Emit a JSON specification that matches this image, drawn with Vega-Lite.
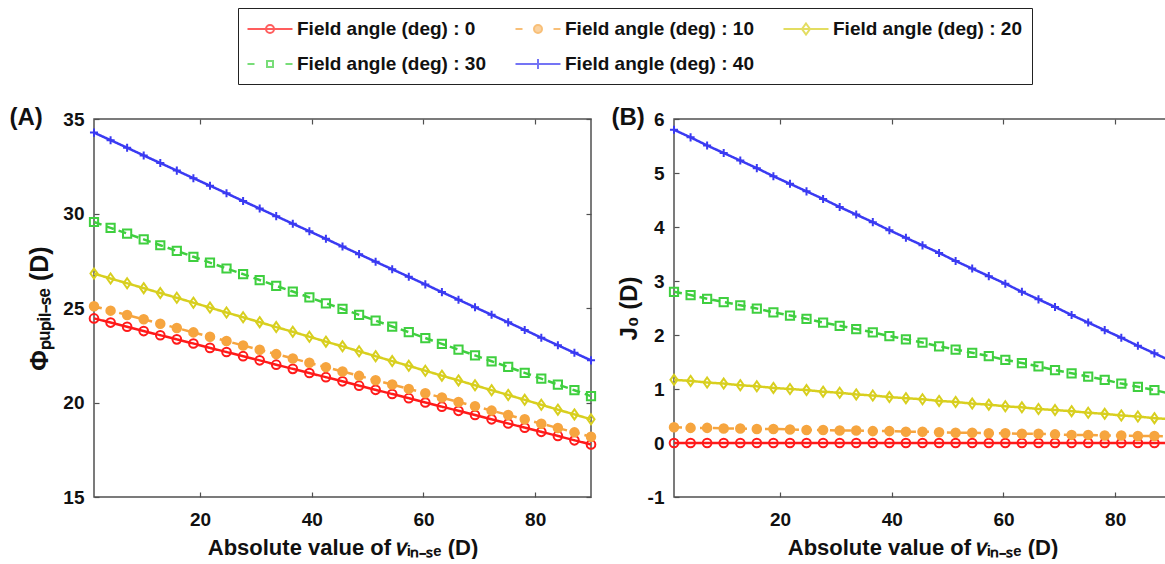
{
  "$schema": "https://vega.github.io/schema/vega-lite/v6.json",
  "background": "white",
  "padding": {"left": 8, "top": 6, "right": 0, "bottom": 0},
  "bounds": "flush",
  "spacing": 83,
  "config": {
    "view": {"stroke": "#505050", "strokeWidth": 1.5},
    "font": "Liberation Sans",
    "axis": {
      "domain": false, "grid": false,
      "tickSize": -5, "tickColor": "#505050", "tickWidth": 1.2,
      "labelFont": "Liberation Sans", "labelFontSize": 19, "labelFontWeight": "bold", "labelColor": "#111",
      "titleFont": "Liberation Sans", "titleFontSize": 22, "titleFontWeight": "bold", "titleColor": "#111"
    },
    "legend": {
      "labelFont": "Liberation Sans", "labelFontSize": 19, "labelFontWeight": "bold", "labelColor": "#111", "labelLimit": 0,
      "symbolStrokeWidth": 2, "symbolSize": 400,
      "strokeColor": "#222", "fillColor": "white", "padding": 10,
      "rowPadding": 14, "columnPadding": 25, "symbolOffset": 11, "labelOffset": 16
    }
  },
  "datasets": {
    "A": [
      {"a":"0","x":1,"y":24.45},{"a":"0","x":3.97,"y":24.23},{"a":"0","x":6.93,"y":24.01},{"a":"0","x":9.9,"y":23.78},{"a":"0","x":12.87,"y":23.56},{"a":"0","x":15.83,"y":23.34},{"a":"0","x":18.8,"y":23.12},{"a":"0","x":21.77,"y":22.89},{"a":"0","x":24.73,"y":22.67},{"a":"0","x":27.7,"y":22.45},{"a":"0","x":30.67,"y":22.23},{"a":"0","x":33.63,"y":22.0},{"a":"0","x":36.6,"y":21.78},{"a":"0","x":39.57,"y":21.56},{"a":"0","x":42.53,"y":21.34},{"a":"0","x":45.5,"y":21.12},{"a":"0","x":48.47,"y":20.89},{"a":"0","x":51.43,"y":20.67},{"a":"0","x":54.4,"y":20.45},{"a":"0","x":57.37,"y":20.23},{"a":"0","x":60.33,"y":20.0},{"a":"0","x":63.3,"y":19.78},{"a":"0","x":66.27,"y":19.56},{"a":"0","x":69.23,"y":19.34},{"a":"0","x":72.2,"y":19.11},{"a":"0","x":75.17,"y":18.89},{"a":"0","x":78.13,"y":18.67},{"a":"0","x":81.1,"y":18.45},{"a":"0","x":84.07,"y":18.23},{"a":"0","x":87.03,"y":18.0},{"a":"0","x":90,"y":17.78},
      {"a":"10","x":1,"y":25.09},{"a":"10","x":3.97,"y":24.86},{"a":"10","x":6.93,"y":24.63},{"a":"10","x":9.9,"y":24.4},{"a":"10","x":12.87,"y":24.17},{"a":"10","x":15.83,"y":23.94},{"a":"10","x":18.8,"y":23.71},{"a":"10","x":21.77,"y":23.48},{"a":"10","x":24.73,"y":23.25},{"a":"10","x":27.7,"y":23.02},{"a":"10","x":30.67,"y":22.79},{"a":"10","x":33.63,"y":22.56},{"a":"10","x":36.6,"y":22.33},{"a":"10","x":39.57,"y":22.1},{"a":"10","x":42.53,"y":21.87},{"a":"10","x":45.5,"y":21.64},{"a":"10","x":48.47,"y":21.41},{"a":"10","x":51.43,"y":21.18},{"a":"10","x":54.4,"y":20.95},{"a":"10","x":57.37,"y":20.72},{"a":"10","x":60.33,"y":20.49},{"a":"10","x":63.3,"y":20.26},{"a":"10","x":66.27,"y":20.03},{"a":"10","x":69.23,"y":19.8},{"a":"10","x":72.2,"y":19.57},{"a":"10","x":75.17,"y":19.34},{"a":"10","x":78.13,"y":19.11},{"a":"10","x":81.1,"y":18.88},{"a":"10","x":84.07,"y":18.65},{"a":"10","x":87.03,"y":18.42},{"a":"10","x":90,"y":18.19},
      {"a":"20","x":1,"y":26.82},{"a":"20","x":3.97,"y":26.56},{"a":"20","x":6.93,"y":26.31},{"a":"20","x":9.9,"y":26.05},{"a":"20","x":12.87,"y":25.79},{"a":"20","x":15.83,"y":25.54},{"a":"20","x":18.8,"y":25.28},{"a":"20","x":21.77,"y":25.02},{"a":"20","x":24.73,"y":24.76},{"a":"20","x":27.7,"y":24.51},{"a":"20","x":30.67,"y":24.25},{"a":"20","x":33.63,"y":23.99},{"a":"20","x":36.6,"y":23.74},{"a":"20","x":39.57,"y":23.48},{"a":"20","x":42.53,"y":23.22},{"a":"20","x":45.5,"y":22.97},{"a":"20","x":48.47,"y":22.71},{"a":"20","x":51.43,"y":22.45},{"a":"20","x":54.4,"y":22.19},{"a":"20","x":57.37,"y":21.94},{"a":"20","x":60.33,"y":21.68},{"a":"20","x":63.3,"y":21.42},{"a":"20","x":66.27,"y":21.17},{"a":"20","x":69.23,"y":20.91},{"a":"20","x":72.2,"y":20.65},{"a":"20","x":75.17,"y":20.4},{"a":"20","x":78.13,"y":20.14},{"a":"20","x":81.1,"y":19.88},{"a":"20","x":84.07,"y":19.62},{"a":"20","x":87.03,"y":19.37},{"a":"20","x":90,"y":19.11},
      {"a":"30","x":1,"y":29.55},{"a":"30","x":3.97,"y":29.24},{"a":"30","x":6.93,"y":28.94},{"a":"30","x":9.9,"y":28.63},{"a":"30","x":12.87,"y":28.32},{"a":"30","x":15.83,"y":28.02},{"a":"30","x":18.8,"y":27.71},{"a":"30","x":21.77,"y":27.4},{"a":"30","x":24.73,"y":27.09},{"a":"30","x":27.7,"y":26.79},{"a":"30","x":30.67,"y":26.48},{"a":"30","x":33.63,"y":26.17},{"a":"30","x":36.6,"y":25.87},{"a":"30","x":39.57,"y":25.56},{"a":"30","x":42.53,"y":25.25},{"a":"30","x":45.5,"y":24.95},{"a":"30","x":48.47,"y":24.64},{"a":"30","x":51.43,"y":24.33},{"a":"30","x":54.4,"y":24.02},{"a":"30","x":57.37,"y":23.72},{"a":"30","x":60.33,"y":23.41},{"a":"30","x":63.3,"y":23.1},{"a":"30","x":66.27,"y":22.8},{"a":"30","x":69.23,"y":22.49},{"a":"30","x":72.2,"y":22.18},{"a":"30","x":75.17,"y":21.88},{"a":"30","x":78.13,"y":21.57},{"a":"30","x":81.1,"y":21.26},{"a":"30","x":84.07,"y":20.95},{"a":"30","x":87.03,"y":20.65},{"a":"30","x":90,"y":20.34},
      {"a":"40","x":1,"y":34.28},{"a":"40","x":3.97,"y":33.88},{"a":"40","x":6.93,"y":33.48},{"a":"40","x":9.9,"y":33.07},{"a":"40","x":12.87,"y":32.67},{"a":"40","x":15.83,"y":32.27},{"a":"40","x":18.8,"y":31.87},{"a":"40","x":21.77,"y":31.47},{"a":"40","x":24.73,"y":31.07},{"a":"40","x":27.7,"y":30.66},{"a":"40","x":30.67,"y":30.26},{"a":"40","x":33.63,"y":29.86},{"a":"40","x":36.6,"y":29.46},{"a":"40","x":39.57,"y":29.06},{"a":"40","x":42.53,"y":28.66},{"a":"40","x":45.5,"y":28.25},{"a":"40","x":48.47,"y":27.85},{"a":"40","x":51.43,"y":27.45},{"a":"40","x":54.4,"y":27.05},{"a":"40","x":57.37,"y":26.65},{"a":"40","x":60.33,"y":26.25},{"a":"40","x":63.3,"y":25.84},{"a":"40","x":66.27,"y":25.44},{"a":"40","x":69.23,"y":25.04},{"a":"40","x":72.2,"y":24.64},{"a":"40","x":75.17,"y":24.24},{"a":"40","x":78.13,"y":23.84},{"a":"40","x":81.1,"y":23.43},{"a":"40","x":84.07,"y":23.03},{"a":"40","x":87.03,"y":22.63},{"a":"40","x":90,"y":22.23}
    ],
    "B": [
      {"a":"0","x":1,"y":0},{"a":"0","x":3.97,"y":0},{"a":"0","x":6.93,"y":0},{"a":"0","x":9.9,"y":0},{"a":"0","x":12.87,"y":0},{"a":"0","x":15.83,"y":0},{"a":"0","x":18.8,"y":0},{"a":"0","x":21.77,"y":0},{"a":"0","x":24.73,"y":0},{"a":"0","x":27.7,"y":0},{"a":"0","x":30.67,"y":0},{"a":"0","x":33.63,"y":0},{"a":"0","x":36.6,"y":0},{"a":"0","x":39.57,"y":0},{"a":"0","x":42.53,"y":0},{"a":"0","x":45.5,"y":0},{"a":"0","x":48.47,"y":0},{"a":"0","x":51.43,"y":0},{"a":"0","x":54.4,"y":0},{"a":"0","x":57.37,"y":0},{"a":"0","x":60.33,"y":0},{"a":"0","x":63.3,"y":0},{"a":"0","x":66.27,"y":0},{"a":"0","x":69.23,"y":0},{"a":"0","x":72.2,"y":0},{"a":"0","x":75.17,"y":0},{"a":"0","x":78.13,"y":0},{"a":"0","x":81.1,"y":0},{"a":"0","x":84.07,"y":0},{"a":"0","x":87.03,"y":0},{"a":"0","x":90,"y":0},
      {"a":"10","x":1,"y":0.29},{"a":"10","x":3.97,"y":0.28},{"a":"10","x":6.93,"y":0.28},{"a":"10","x":9.9,"y":0.27},{"a":"10","x":12.87,"y":0.27},{"a":"10","x":15.83,"y":0.26},{"a":"10","x":18.8,"y":0.26},{"a":"10","x":21.77,"y":0.25},{"a":"10","x":24.73,"y":0.24},{"a":"10","x":27.7,"y":0.24},{"a":"10","x":30.67,"y":0.23},{"a":"10","x":33.63,"y":0.23},{"a":"10","x":36.6,"y":0.22},{"a":"10","x":39.57,"y":0.22},{"a":"10","x":42.53,"y":0.21},{"a":"10","x":45.5,"y":0.21},{"a":"10","x":48.47,"y":0.2},{"a":"10","x":51.43,"y":0.19},{"a":"10","x":54.4,"y":0.19},{"a":"10","x":57.37,"y":0.18},{"a":"10","x":60.33,"y":0.18},{"a":"10","x":63.3,"y":0.17},{"a":"10","x":66.27,"y":0.17},{"a":"10","x":69.23,"y":0.16},{"a":"10","x":72.2,"y":0.15},{"a":"10","x":75.17,"y":0.15},{"a":"10","x":78.13,"y":0.14},{"a":"10","x":81.1,"y":0.14},{"a":"10","x":84.07,"y":0.13},{"a":"10","x":87.03,"y":0.13},{"a":"10","x":90,"y":0.12},
      {"a":"20","x":1,"y":1.17},{"a":"20","x":3.97,"y":1.15},{"a":"20","x":6.93,"y":1.12},{"a":"20","x":9.9,"y":1.1},{"a":"20","x":12.87,"y":1.07},{"a":"20","x":15.83,"y":1.05},{"a":"20","x":18.8,"y":1.02},{"a":"20","x":21.77,"y":1.0},{"a":"20","x":24.73,"y":0.98},{"a":"20","x":27.7,"y":0.95},{"a":"20","x":30.67,"y":0.93},{"a":"20","x":33.63,"y":0.9},{"a":"20","x":36.6,"y":0.88},{"a":"20","x":39.57,"y":0.85},{"a":"20","x":42.53,"y":0.83},{"a":"20","x":45.5,"y":0.81},{"a":"20","x":48.47,"y":0.78},{"a":"20","x":51.43,"y":0.76},{"a":"20","x":54.4,"y":0.73},{"a":"20","x":57.37,"y":0.71},{"a":"20","x":60.33,"y":0.68},{"a":"20","x":63.3,"y":0.66},{"a":"20","x":66.27,"y":0.63},{"a":"20","x":69.23,"y":0.61},{"a":"20","x":72.2,"y":0.59},{"a":"20","x":75.17,"y":0.56},{"a":"20","x":78.13,"y":0.54},{"a":"20","x":81.1,"y":0.51},{"a":"20","x":84.07,"y":0.49},{"a":"20","x":87.03,"y":0.46},{"a":"20","x":90,"y":0.44},
      {"a":"30","x":1,"y":2.8},{"a":"30","x":3.97,"y":2.74},{"a":"30","x":6.93,"y":2.67},{"a":"30","x":9.9,"y":2.61},{"a":"30","x":12.87,"y":2.55},{"a":"30","x":15.83,"y":2.49},{"a":"30","x":18.8,"y":2.42},{"a":"30","x":21.77,"y":2.36},{"a":"30","x":24.73,"y":2.3},{"a":"30","x":27.7,"y":2.23},{"a":"30","x":30.67,"y":2.17},{"a":"30","x":33.63,"y":2.11},{"a":"30","x":36.6,"y":2.05},{"a":"30","x":39.57,"y":1.98},{"a":"30","x":42.53,"y":1.92},{"a":"30","x":45.5,"y":1.86},{"a":"30","x":48.47,"y":1.79},{"a":"30","x":51.43,"y":1.73},{"a":"30","x":54.4,"y":1.67},{"a":"30","x":57.37,"y":1.61},{"a":"30","x":60.33,"y":1.54},{"a":"30","x":63.3,"y":1.48},{"a":"30","x":66.27,"y":1.42},{"a":"30","x":69.23,"y":1.35},{"a":"30","x":72.2,"y":1.29},{"a":"30","x":75.17,"y":1.23},{"a":"30","x":78.13,"y":1.17},{"a":"30","x":81.1,"y":1.1},{"a":"30","x":84.07,"y":1.04},{"a":"30","x":87.03,"y":0.98},{"a":"30","x":90,"y":0.91},
      {"a":"40","x":1,"y":5.8},{"a":"40","x":3.97,"y":5.66},{"a":"40","x":6.93,"y":5.51},{"a":"40","x":9.9,"y":5.37},{"a":"40","x":12.87,"y":5.23},{"a":"40","x":15.83,"y":5.09},{"a":"40","x":18.8,"y":4.94},{"a":"40","x":21.77,"y":4.8},{"a":"40","x":24.73,"y":4.66},{"a":"40","x":27.7,"y":4.52},{"a":"40","x":30.67,"y":4.37},{"a":"40","x":33.63,"y":4.23},{"a":"40","x":36.6,"y":4.09},{"a":"40","x":39.57,"y":3.94},{"a":"40","x":42.53,"y":3.8},{"a":"40","x":45.5,"y":3.66},{"a":"40","x":48.47,"y":3.52},{"a":"40","x":51.43,"y":3.37},{"a":"40","x":54.4,"y":3.23},{"a":"40","x":57.37,"y":3.09},{"a":"40","x":60.33,"y":2.95},{"a":"40","x":63.3,"y":2.8},{"a":"40","x":66.27,"y":2.66},{"a":"40","x":69.23,"y":2.52},{"a":"40","x":72.2,"y":2.37},{"a":"40","x":75.17,"y":2.23},{"a":"40","x":78.13,"y":2.09},{"a":"40","x":81.1,"y":1.95},{"a":"40","x":84.07,"y":1.8},{"a":"40","x":87.03,"y":1.66},{"a":"40","x":90,"y":1.52}
    ]
  },
  "hconcat": [
    {
      "width": 497,
      "height": 378,
      "data": {"name": "A"},
      "layer": [
        {
          "mark": {"type": "line", "strokeWidth": 2.5},
          "encoding": {
            "x": {"field": "x", "type": "quantitative", "scale": {"domain": [1, 90], "nice": false, "zero": false},
                  "axis": {"values": [20, 40, 60, 80], "labelPadding": 18, "titlePadding": 8, "title": "Absolute value of 𝑣ᵢₙ₋ₛₑ (D)"}},
            "y": {"field": "y", "type": "quantitative", "scale": {"domain": [15, 35], "nice": false, "zero": false},
                  "axis": {"values": [15, 20, 25, 30, 35], "labelPadding": 15, "titlePadding": 10, "titleFontSize": 25, "title": "Φₚᵤₚᵢₗ₋ₛₑ (D)"}},
            "stroke": {"field": "a", "type": "nominal", "scale": {"domain": ["0", "10", "20", "30", "40"], "range": ["#ff1a1a", "#f6a53f", "#d8cf1f", "#3fcf3f", "#3a3af2"]}, "legend": null},
            "strokeDash": {"field": "a", "type": "nominal", "scale": {"domain": ["0", "10", "20", "30", "40"], "range": [[1, 0], [8, 5], [1, 0], [8, 5], [1, 0]]}, "legend": null}
          }
        },
        {
          "mark": {"type": "point", "strokeWidth": 2, "opacity": 1},
          "encoding": {
            "x": {"field": "x", "type": "quantitative",
                  "axis": {"orient": "top", "values": [20, 40, 60, 80], "labels": false, "title": "(A)",
                           "titleX": -85, "titleY": 5, "titleAlign": "left", "titleAngle": 0, "titleBaseline": "alphabetic", "titleFontSize": 24}},
            "y": {"field": "y", "type": "quantitative", "axis": {"orient": "right", "values": [15, 20, 25, 30, 35], "labels": false, "title": null}},
            "stroke": {"field": "a", "type": "nominal", "scale": {"domain": ["0", "10", "20", "30", "40"], "range": ["#ff1a1a", "#f6a53f", "#d8cf1f", "#3fcf3f", "#3a3af2"]}, "legend": null},
            "fill": {"field": "a", "type": "nominal", "scale": {"domain": ["0", "10", "20", "30", "40"], "range": ["transparent", "#f6a53f", "transparent", "transparent", "transparent"]}, "legend": null},
            "shape": {"field": "a", "type": "nominal", "scale": {"domain": ["0", "10", "20", "30", "40"], "range": ["circle", "circle", "M0,-1.2L0.85,0L0,1.2L-0.85,0Z", "square", "M-1,0H1M0,-1V1"]}, "legend": null},
            "size": {"field": "a", "type": "ordinal", "scale": {"domain": ["0", "10", "20", "30", "40"], "range": [75, 65, 110, 60, 130]}, "legend": null}
          }
        },
        {
          "data": {"values": []},
          "mark": {"type": "point", "filled": true, "size": 400, "strokeWidth": 2},
          "encoding": {
            "stroke": {"field": "a", "type": "nominal",
                       "scale": {"domain": ["0", "10", "20", "30", "40"], "range": ["#ff1a1a", "#f6a53f", "#d8cf1f", "#3fcf3f", "#3a3af2"]},
                       "legend": {"orient": "none", "legendX": 144, "legendY": -111, "columns": 3, "direction": "horizontal", "title": null, "labelExpr": "'Field angle (deg) : ' + datum.label"}},
            "fill": {"field": "a", "type": "nominal",
                     "scale": {"domain": ["0", "10", "20", "30", "40"], "range": ["transparent", "#f6a53f", "transparent", "transparent", "transparent"]},
                     "legend": {"orient": "none", "legendX": 144, "legendY": -111, "columns": 3, "direction": "horizontal", "title": null, "labelExpr": "'Field angle (deg) : ' + datum.label"}},
            "shape": {"field": "a", "type": "nominal",
                      "scale": {"domain": ["0", "10", "20", "30", "40"], "range": [
                        "M-2.25,0H2.25M0.4,0C0.4,0.221 0.221,0.4 0,0.4C-0.221,0.4 -0.4,0.221 -0.4,0C-0.4,-0.221 -0.221,-0.4 0,-0.4C0.221,-0.4 0.4,-0.221 0.4,0Z",
                        "M-2.25,0H-1.55M1.55,0H2.25M0.4,0C0.4,0.221 0.221,0.4 0,0.4C-0.221,0.4 -0.4,0.221 -0.4,0C-0.4,-0.221 -0.221,-0.4 0,-0.4C0.221,-0.4 0.4,-0.221 0.4,0Z",
                        "M-2.25,0H2.25M0,-0.55L0.4,0L0,0.55L-0.4,0Z",
                        "M-2.25,0H-1.55M1.55,0H2.25M-0.3,-0.3H0.3V0.3H-0.3Z",
                        "M-2.25,0H2.25M0,-0.5V0.5"]},
                      "legend": {"orient": "none", "legendX": 144, "legendY": -111, "columns": 3, "direction": "horizontal", "title": null, "labelExpr": "'Field angle (deg) : ' + datum.label"}}
          }
        }
      ],
      "resolve": {
        "scale": {"stroke": "independent", "fill": "independent", "shape": "independent", "strokeDash": "independent", "size": "independent"},
        "axis": {"x": "independent", "y": "independent"}
      }
    },
    {
      "width": 497,
      "height": 378,
      "data": {"name": "B"},
      "layer": [
        {
          "mark": {"type": "line", "strokeWidth": 2.5},
          "encoding": {
            "x": {"field": "x", "type": "quantitative", "scale": {"domain": [1, 90], "nice": false, "zero": false},
                  "axis": {"values": [20, 40, 60, 80], "labelPadding": 18, "titlePadding": 8, "title": "Absolute value of 𝑣ᵢₙ₋ₛₑ (D)"}},
            "y": {"field": "y", "type": "quantitative", "scale": {"domain": [-1, 6], "nice": false, "zero": false},
                  "axis": {"values": [-1, 0, 1, 2, 3, 4, 5, 6], "labelExpr": "'' + datum.value", "labelPadding": 15, "titlePadding": 6, "titleFontSize": 24, "title": "J₀ (D)"}},
            "stroke": {"field": "a", "type": "nominal", "scale": {"domain": ["0", "10", "20", "30", "40"], "range": ["#ff1a1a", "#f6a53f", "#d8cf1f", "#3fcf3f", "#3a3af2"]}, "legend": null},
            "strokeDash": {"field": "a", "type": "nominal", "scale": {"domain": ["0", "10", "20", "30", "40"], "range": [[1, 0], [8, 5], [1, 0], [8, 5], [1, 0]]}, "legend": null}
          }
        },
        {
          "mark": {"type": "point", "strokeWidth": 2, "opacity": 1},
          "encoding": {
            "x": {"field": "x", "type": "quantitative",
                  "axis": {"orient": "top", "values": [20, 40, 60, 80], "labels": false, "title": "(B)",
                           "titleX": -63, "titleY": 5, "titleAlign": "left", "titleAngle": 0, "titleBaseline": "alphabetic", "titleFontSize": 24}},
            "y": {"field": "y", "type": "quantitative", "axis": {"orient": "right", "values": [-1, 0, 1, 2, 3, 4, 5, 6], "labels": false, "title": null}},
            "stroke": {"field": "a", "type": "nominal", "scale": {"domain": ["0", "10", "20", "30", "40"], "range": ["#ff1a1a", "#f6a53f", "#d8cf1f", "#3fcf3f", "#3a3af2"]}, "legend": null},
            "fill": {"field": "a", "type": "nominal", "scale": {"domain": ["0", "10", "20", "30", "40"], "range": ["transparent", "#f6a53f", "transparent", "transparent", "transparent"]}, "legend": null},
            "shape": {"field": "a", "type": "nominal", "scale": {"domain": ["0", "10", "20", "30", "40"], "range": ["circle", "circle", "M0,-1.2L0.85,0L0,1.2L-0.85,0Z", "square", "M-1,0H1M0,-1V1"]}, "legend": null},
            "size": {"field": "a", "type": "ordinal", "scale": {"domain": ["0", "10", "20", "30", "40"], "range": [75, 65, 110, 60, 130]}, "legend": null}
          }
        }
      ],
      "resolve": {
        "scale": {"stroke": "independent", "fill": "independent", "shape": "independent", "strokeDash": "independent", "size": "independent"},
        "axis": {"x": "independent", "y": "independent"}
      }
    }
  ],
  "resolve": {
    "scale": {"stroke": "independent", "fill": "independent", "shape": "independent", "strokeDash": "independent", "size": "independent"}
  }
}
